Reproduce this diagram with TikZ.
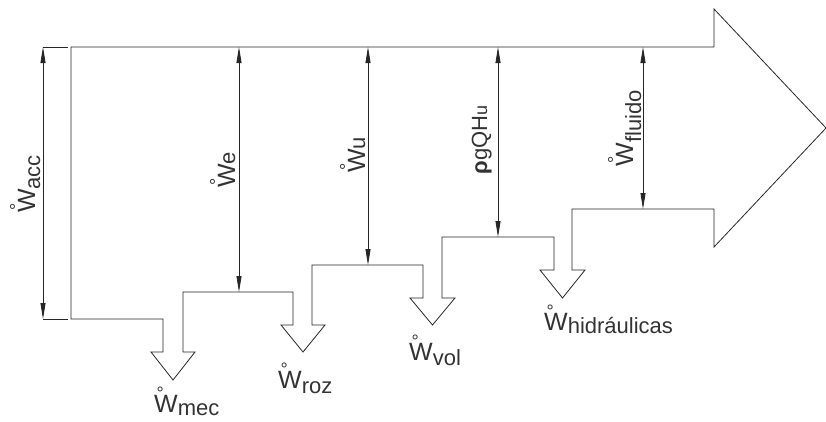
\documentclass[tikz,border=0pt]{standalone}
\usepackage{fontspec}
\setmainfont{Liberation Sans}
\usetikzlibrary{arrows.meta}
\newcommand\Wdot{\makebox[0pt][l]{\hspace{2.5pt}\raisebox{12.5pt}{\fontsize{18}{18}\selectfont °}}{\fontsize{25}{26}\selectfont W}}
\newcommand\lowsub[2]{\raisebox{-#1pt}{#2}}
\tikzset{
  outline/.style={draw=black!85, line width=0.8pt, line join=miter},
  dimline/.style={draw=black!85, line width=0.8pt,
    {Triangle[length=16pt,width=5pt]}-{Triangle[length=16pt,width=5pt]}},
  extline/.style={draw=black!85, line width=0.8pt},
  lbl/.style={inner sep=1pt, text=black!80, font=\fontsize{22}{24}\selectfont},
  vlbl/.style={lbl, rotate=90, anchor=base},
  hlbl/.style={lbl, anchor=base west}
}
\begin{document}
\begin{tikzpicture}[x=1pt,y=-1pt]
\useasboundingbox (0,0) rectangle (826,421);
% main flow shape
\draw[outline] (71,47) -- (714,47) -- (714,9) -- (826,128) -- (714,247) -- (714,209)
 -- (572,209) -- (572,270) -- (585,270) -- (562.5,298) -- (540,270) -- (554,270) -- (554,237)
 -- (442,237) -- (442,298) -- (455,298) -- (432.5,325) -- (410,298) -- (423,298) -- (423,265)
 -- (312,265) -- (312,325) -- (325,325) -- (303,352) -- (281,325) -- (293,325) -- (293,292)
 -- (183,292) -- (183,352) -- (195,352) -- (173,380) -- (151,352) -- (163,352) -- (163,319)
 -- (71,319) -- cycle;
% extension lines
\coordinate (xa1) at (43,47);  \coordinate (xa2) at (68,47);
\coordinate (xb1) at (43,319); \coordinate (xb2) at (68,319);
\draw[extline] (xa1) -- (xa2);
\draw[extline] (xb1) -- (xb2);
% dimension lines
\coordinate (acc1) at (43,47);  \coordinate (acc2) at (43,319);
\coordinate (e1) at (239,47);   \coordinate (e2) at (239,292);
\coordinate (u1) at (368,47);   \coordinate (u2) at (368,265);
\coordinate (r1) at (498,47);   \coordinate (r2) at (498,237);
\coordinate (f1) at (643,47);   \coordinate (f2) at (643,209);
\draw[dimline] (acc1) -- (acc2);
\draw[dimline] (e1) -- (e2);
\draw[dimline] (u1) -- (u2);
\draw[dimline] (r1) -- (r2);
\draw[dimline] (f1) -- (f2);
% vertical labels
\node[vlbl] (lacc) at (35,184) {\Wdot\lowsub{5}{acc}};
\node[vlbl] (le) at (235,170) {\Wdot e};
\node[vlbl] (lu) at (365,155) {\Wdot u};
\node[vlbl] (lr) at (487,140) {\textbf{ρ}gQH{\fontsize{18}{20}\selectfont u}};
\node[vlbl] (lf) at (633,128) {\Wdot\lowsub{8}{fluido}};
% bottom labels
\node[hlbl] (lmec) at (153,412) {\Wdot\lowsub{3}{mec}};
\node[hlbl] (lroz) at (277,388) {\Wdot\lowsub{5}{roz}};
\node[hlbl] (lvol) at (408,360) {\Wdot\lowsub{5}{vol}};
\node[hlbl] (lhid) at (543,330) {\Wdot\lowsub{3}{hidráulicas}};
\end{tikzpicture}
\end{document}
